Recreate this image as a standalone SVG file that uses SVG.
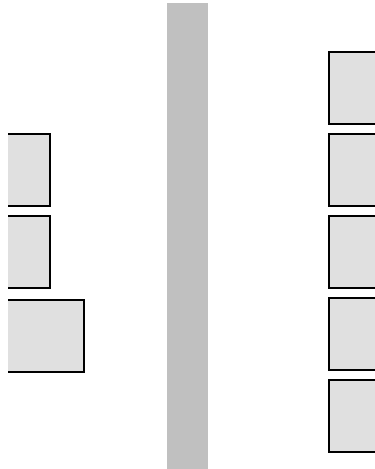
<svg xmlns="http://www.w3.org/2000/svg" width="375" height="469" viewBox="0 0 375 469">
<style>
.f{fill:#e0e0e0;stroke:none}
.s{fill:none;stroke:#000;stroke-width:2}
</style>
<rect x="0" y="0" width="375" height="469" fill="#fff"/>
<rect id="bar" x="167" y="3" width="41" height="466" fill="#c0c0c0"/>
<g id="L1"><rect class="f" x="8" y="134" width="42" height="72"/><path class="s" d="M8 134H50V206H8"/></g>
<g id="L2"><rect class="f" x="8" y="216" width="42" height="72"/><path class="s" d="M8 216H50V288H8"/></g>
<g id="L3"><rect class="f" x="8" y="300" width="76" height="72"/><path class="s" d="M8 300H84V372H8"/></g>
<g id="R1"><rect class="f" x="329" y="52" width="46" height="72"/><path class="s" d="M376 52H329V124H376"/></g>
<g id="R2"><rect class="f" x="329" y="134" width="46" height="72"/><path class="s" d="M376 134H329V206H376"/></g>
<g id="R3"><rect class="f" x="329" y="216" width="46" height="72"/><path class="s" d="M376 216H329V288H376"/></g>
<g id="R4"><rect class="f" x="329" y="298" width="46" height="72"/><path class="s" d="M376 298H329V370H376"/></g>
<g id="R5"><rect class="f" x="329" y="380" width="46" height="72"/><path class="s" d="M376 380H329V452H376"/></g>
<g id="connectors"></g>
</svg>
